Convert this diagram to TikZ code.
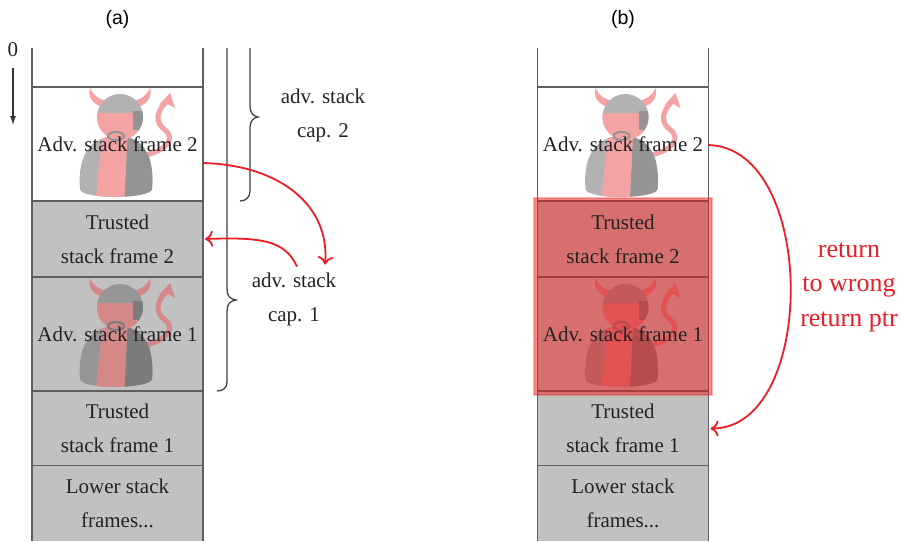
\documentclass[tikz,border=0pt]{standalone}
\usepackage{fontspec}
\setmainfont{Liberation Serif}
\newfontfamily\sanslab{Liberation Sans}
\usetikzlibrary{arrows.meta,fit}

\definecolor{framegray}{RGB}{193,193,193}
\definecolor{linegray}{RGB}{95,95,95}
\definecolor{bracegray}{RGB}{65,65,65}
\definecolor{arrred}{RGB}{235,30,38}
\definecolor{hlred}{RGB}{240,30,30}
\definecolor{txtdark}{RGB}{35,35,35}
\definecolor{dLw}{RGB}{178,178,178}
\definecolor{dDw}{RGB}{148,148,148}
\definecolor{dRw}{RGB}{243,163,163}
\definecolor{dLg}{RGB}{150,150,150}
\definecolor{dDg}{RGB}{124,124,124}
\definecolor{dRg}{RGB}{212,136,136}

\tikzset{
  pics/devil/.style n args={3}{code={
    % tail
    \draw[#3, line width=5pt, line cap=round] (26,-38) .. controls (46,-33) and (56,-22) .. (45,-13) .. controls (34,-5) and (37,6) .. (46,15);
    \fill[#3] (50,24) -- (39,12) -- (46,14) -- (55,9) -- cycle;
    % body
    \begin{scope}
      \clip (-40,-72) .. controls (-43,-34) and (-26,-19) .. (-3,-19) .. controls (20,-19) and (35,-34) .. (32,-72) .. controls (31,-82) and (-39,-83) .. (-40,-72) -- cycle;
      \fill[#1] (-50,-90) rectangle (50,0);
      \fill[#2] (4,-90) -- (8,-10) -- (50,-10) -- (50,-90) -- cycle;
      \fill[#3] (-25,-90) -- (-17,-10) -- (8,-10) -- (4,-90) -- cycle;
    \end{scope}
    % horns
    \fill[#3] (-18,10) .. controls (-29,14) and (-32,21) .. (-30,29) .. controls (-27,22) and (-22,18) .. (-13,16) -- cycle;
    \fill[#3] (13,16) .. controls (22,18) and (27,22) .. (30,29) .. controls (32,21) and (29,14) .. (18,10) -- cycle;
    % head
    \fill[#1] (0,0) circle (23);
    \begin{scope}
      \clip (0,0) circle (23);
      \fill[#3] (-25,4) rectangle (25,-25);
      \fill[#2] (13,6) rectangle (25,-13);
    \end{scope}
    \draw[#2, line width=2pt] (-4,-19) ellipse (8 and 4);
  }},
  devilin/.style n args={3}{path picture={\pic at ([shift={(2.5,27)}]path picture bounding box.center) {devil={#1}{#2}{#3}};}},
  stackframe/.style={rectangle, draw=linegray, line width=1.6pt, minimum width=171pt,
    inner sep=0pt, outer sep=0pt, align=center, text=txtdark,
    font=\fontsize{21}{34}\selectfont},
  advframe/.style={stackframe, minimum height=114pt},
  textonly/.style={stackframe, draw=none, fill=none},
  colline/.style={draw=linegray, line width=1.6pt},
  bracepath/.style={draw=bracegray, line width=1.3pt},
  bracelab/.style={align=center, text=txtdark, font=\fontsize{21}{34}\selectfont},
  redlab/.style={align=center, text=arrred, font=\fontsize{26}{34.5}\selectfont},
  sublab/.style={text=black, font=\sanslab\fontsize{19.5}{22}\selectfont},
  redarrow/.style={draw=arrred, line width=1.8pt, -{Computer Modern Rightarrow[length=8pt,width=16pt]}},
  hlbox/.style={rectangle, fill=hlred, fill opacity=0.5, draw=hlred, draw opacity=0.3, line width=2pt, inner sep=3.5pt}
}

\begin{document}
\begin{tikzpicture}[x=1pt,y=1pt]
\useasboundingbox (0,0) rectangle (901,-541);

% sub labels
\node[sublab] (la) at (117.5,-19) {(a)};
\node[sublab] (lb) at (623,-19) {(b)};

% zero and direction arrow
\node[inner sep=0pt, text=txtdark, font=\fontsize{21}{25}\selectfont] (zero) at (13,-50) {0};
\coordinate (zend) at (13,-125);
\draw[draw=black!80, line width=1.3pt, -{Latex[length=9pt,width=6pt]}] ([yshift=-11pt]zero.south) -- (zend);

% ---------- column (a)
\node[stackframe, draw=none, minimum height=39pt] (a0) at (117.5,-67.5) {};
\node[advframe, fill=white, devilin={dLw}{dDw}{dRw}] (a2) at (117.5,-144) {Adv. stack frame 2};
\node[stackframe, fill=framegray, minimum height=76pt] (at2) at (117.5,-239) {Trusted\\stack frame 2};
\node[advframe, fill=framegray, devilin={dLg}{dDg}{dRg}] (a1) at (117.5,-334) {Adv. stack frame 1};
\node[stackframe, fill=framegray, minimum height=75pt] (at1) at (117.5,-428.5) {Trusted\\stack frame 1};
\node[stackframe, fill=framegray, draw=none, minimum height=75pt] (alow) at (117.5,-503.5) {Lower stack\\frames...};
\draw[colline] (a0.north west) -- (alow.south west);
\draw[colline] (a0.north east) -- (alow.south east);

% braces
\draw[bracepath] (250,-48) -- (250,-106) .. controls (250,-113) and (253,-116) .. (258,-117)
  .. controls (253,-118) and (250,-121) .. (250,-128) -- (250,-191) .. controls (250,-197) and (246,-201) .. (240,-201);
\draw[bracepath] (227,-48) -- (227,-289) .. controls (227,-296) and (230,-299) .. (236,-300)
  .. controls (230,-301) and (227,-304) .. (227,-311) -- (227,-382) .. controls (227,-388) and (223,-391) .. (217,-391);
\node[bracelab] (cap2) at (323,-115) {adv. stack\\cap. 2};
\node[bracelab] (cap1) at (294,-299.5) {adv. stack\\cap. 1};

% red arrows (a)
\draw[redarrow] ([yshift=-19pt]a2.east) .. controls +(77,-2) and +(5,59) .. ([shift={(31,35)}]cap1.center);
\draw[redarrow] ([shift={(3,33)}]cap1.center) .. controls +(-12,26) and +(57,2) .. ([xshift=2pt]at2.east);

% ---------- column (b)
\node[stackframe, draw=none, minimum height=39pt] (b0) at (623,-67.5) {};
\node[advframe, fill=white, devilin={dLw}{dDw}{dRw}] (b2) at (623,-144) {Adv. stack frame 2};
\node[stackframe, fill=framegray, minimum height=76pt] (bt2f) at (623,-239) {};
\node[advframe, fill=framegray, devilin={dLg}{dDg}{dRg}] (b1f) at (623,-334) {};
\node[stackframe, fill=framegray, minimum height=75pt] (bt1) at (623,-428.5) {Trusted\\stack frame 1};
\node[stackframe, fill=framegray, draw=none, minimum height=75pt] (blow) at (623,-503.5) {Lower stack\\frames...};
\draw[colline] (b0.north west) -- (blow.south west);
\draw[colline] (b0.north east) -- (blow.south east);

% highlight (under the texts)
\node[hlbox, fit=(bt2f)(b1f)] (hl) {};
\node[textonly, minimum height=76pt] (bt2) at (bt2f.center) {Trusted\\stack frame 2};
\node[textonly, minimum height=114pt] (b1) at (b1f.center) {Adv. stack frame 1};

% return arrow
\draw[redarrow] ([yshift=-1pt]b2.east) .. controls +(109,-3) and +(107,0) .. ([xshift=2pt]bt1.east);
\node[redlab] (ret) at (849,-287) {return\\to wrong\\return ptr};

\end{tikzpicture}
\end{document}
